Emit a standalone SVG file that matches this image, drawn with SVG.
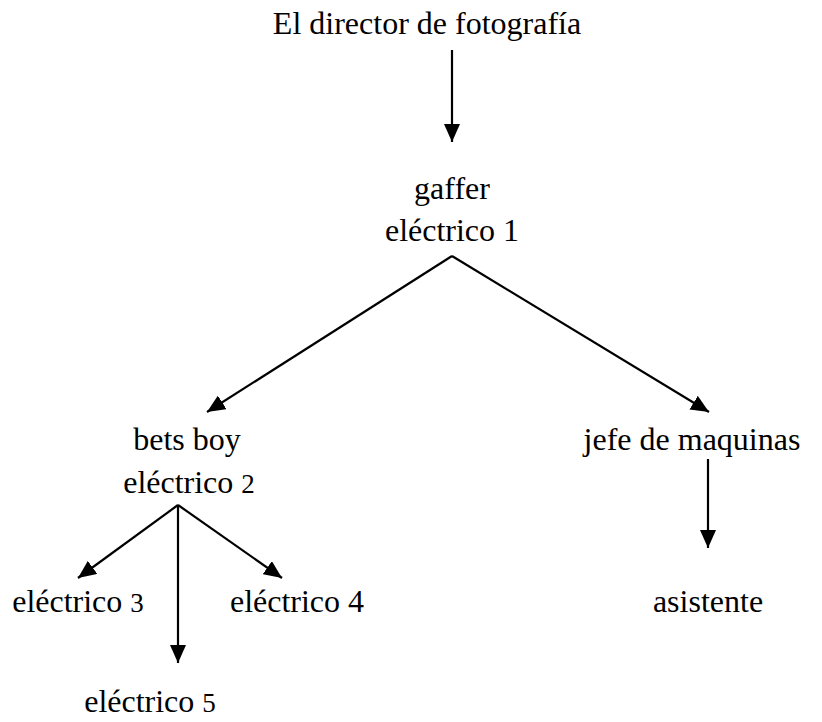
<svg xmlns="http://www.w3.org/2000/svg" width="822" height="722" viewBox="0 0 822 722">
<defs>
<marker id="ah" markerUnits="userSpaceOnUse" markerWidth="18" markerHeight="16" refX="18" refY="8" orient="auto">
<path d="M0,0 L18,8 L0,16 z" fill="#000"/>
</marker>
<style>
text{font-family:"Liberation Serif","Times New Roman",serif;font-size:32px;fill:#000;text-anchor:middle}
.sm{font-size:27px}
line{stroke:#000;stroke-width:2.2;marker-end:url(#ah)}
</style>
</defs>
<rect width="822" height="722" fill="#fff"/>
<g id="director"><text x="427" y="34">El director de fotografía</text></g>
<g id="gaffer"><text x="452" y="199">gaffer</text><text x="452" y="241">eléctrico 1</text></g>
<g id="betsboy"><text x="187" y="450">bets boy</text><text x="189" y="493">eléctrico <tspan class="sm">2</tspan></text></g>
<g id="jefe"><text x="692" y="450">jefe de maquinas</text></g>
<g id="e3"><text x="78" y="612">eléctrico <tspan class="sm">3</tspan></text></g>
<g id="e4"><text x="297" y="612">eléctrico 4</text></g>
<g id="e5"><text x="150" y="712">eléctrico <tspan class="sm">5</tspan></text></g>
<g id="asistente"><text x="708" y="612">asistente</text></g>
<g id="connectors">
<line x1="452" y1="50" x2="452" y2="142"/>
<line x1="452" y1="256" x2="207" y2="412"/>
<line x1="452" y1="256" x2="709" y2="412"/>
<line x1="178" y1="505" x2="78" y2="578"/>
<line x1="178" y1="505" x2="282" y2="578"/>
<line x1="178" y1="505" x2="178" y2="663"/>
<line x1="708" y1="459" x2="708" y2="548"/>
</g>
</svg>
